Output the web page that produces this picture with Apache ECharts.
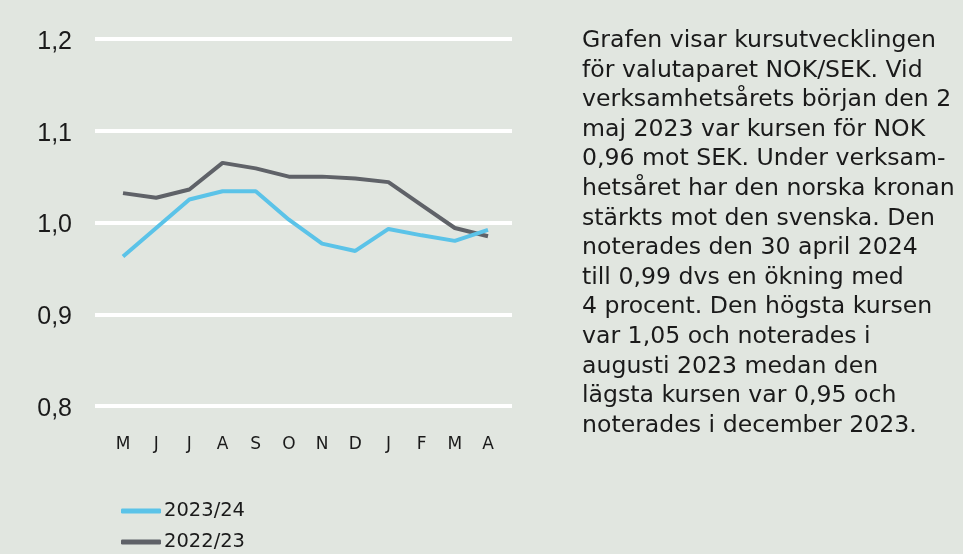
<!DOCTYPE html>
<html><head><meta charset="utf-8">
<script src="https://cdn.jsdelivr.net/npm/echarts@6/dist/echarts.min.js"></script>
<style>html,body{margin:0;padding:0;background:#e1e6e0;}#c{width:963px;height:554px;}</style>
</head><body><div id="c"></div>
<script>
const months = ['M','J','J','A','S','O','N','D','J','F','M','A'];
const fy2324 = [0.963,0.994,1.025,1.034,1.034,1.003,0.977,0.969,0.993,0.986,0.980,0.992];
const fy2223 = [1.032,1.027,1.036,1.065,1.059,1.050,1.050,1.048,1.044,1.019,0.994,0.985];
const yTicks = [0.8,0.9,1.0,1.1,1.2];
const seriesNames = ['2023/24','2022/23'];
const textLines = [
 'Grafen visar kursutvecklingen',
 'för valutaparet NOK/SEK. Vid',
 'verksamhetsårets början den 2',
 'maj 2023 var kursen för NOK',
 '0,96 mot SEK. Under verksam-',
 'hetsåret har den norska kronan',
 'stärkts mot den svenska. Den',
 'noterades den 30 april 2024',
 'till 0,99 dvs en ökning med',
 '4 procent. Den högsta kursen',
 'var 1,05 och noterades i',
 'augusti 2023 medan den',
 'lägsta kursen var 0,95 och',
 'noterades i december 2023.'
];
const font = 'Liberation Sans, Arial, sans-serif';
const wide = 'DejaVu Sans, sans-serif';
const chart = echarts.init(document.getElementById('c'));
const gTop = 39, gBottom = 554-406;
const legendCommon = {orient:'vertical', left:121, padding:0, itemWidth:40, itemHeight:5, icon:'roundRect',
  textStyle:{color:'#1a1a1a', fontSize:19.5, fontFamily:wide, padding:[0,0,0,-2]}};
chart.setOption({
  backgroundColor:'#e1e6e0',
  animation:false,
  grid:[
    {left:95, right:963-512, top:gTop, bottom:gBottom},
    {left:123, right:963-488, top:gTop, bottom:gBottom}
  ],
  xAxis:[
    {gridIndex:0, type:'category', data:months, show:false},
    {gridIndex:1, type:'category', data:months, boundaryGap:false,
     axisLine:{show:false}, axisTick:{show:false},
     axisLabel:{color:'#1a1a1a', fontSize:17, fontFamily:wide, margin:30, interval:0}}
  ],
  yAxis:[
    {gridIndex:0, type:'value', min:yTicks[0], max:yTicks[yTicks.length-1], interval:0.1,
     axisLine:{show:false}, axisTick:{show:false},
     splitLine:{lineStyle:{color:'#ffffff', width:4}},
     axisLabel:{color:'#1a1a1a', fontSize:25, fontFamily:font, margin:23,
       verticalAlign:'top', lineHeight:6,
       formatter:v=>v.toFixed(1).replace('.',',')}},
    {gridIndex:1, type:'value', min:yTicks[0], max:yTicks[yTicks.length-1], interval:0.1,
     show:false, splitLine:{show:false}}
  ],
  legend:[
    Object.assign({top:501, data:[seriesNames[0]]}, legendCommon),
    Object.assign({top:532, data:[seriesNames[1]]}, legendCommon)
  ],
  series:[
    {name:seriesNames[1], type:'line', xAxisIndex:1, yAxisIndex:1, data:fy2223,
     symbol:'none', lineStyle:{color:'#5f6268', width:4}, itemStyle:{color:'#5f6268'}},
    {name:seriesNames[0], type:'line', xAxisIndex:1, yAxisIndex:1, data:fy2324,
     symbol:'none', lineStyle:{color:'#5bc3e8', width:4}, itemStyle:{color:'#5bc3e8'}}
  ],
  graphic:[{
    type:'text', left:582, top:26,
    style:{text:textLines.join('\n'), fill:'#1a1a1a', font:'23.6px '+wide, lineHeight:29.6}
  }]
});
</script></body></html>
